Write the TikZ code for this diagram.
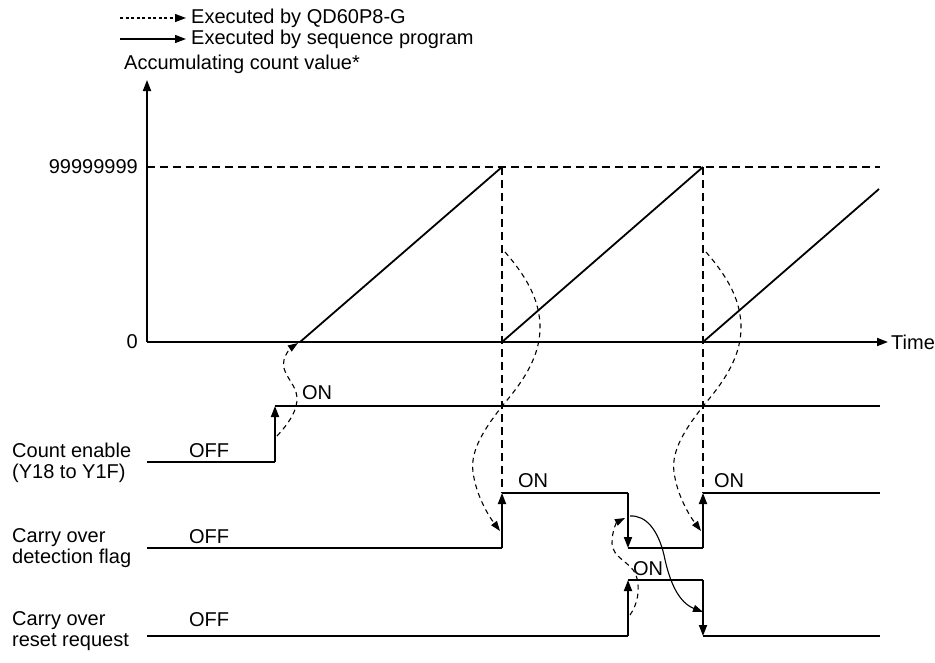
\documentclass[tikz,border=0pt]{standalone}
\usepackage{fontspec}
\setmainfont{Liberation Sans}
\usetikzlibrary{arrows.meta}
\begin{document}
\begin{tikzpicture}[x=1pt,y=-1pt,
  font=\fontsize{20}{21}\selectfont,
  lbl/.style={inner sep=0pt},
  sig/.style={line width=1.8pt},
  guide/.style={line width=1.8pt,dash pattern=on 8pt off 5pt},
  sigtip/.style={-{Triangle[length=11pt,width=8pt]}},
  qd/.style={line width=1.1pt,dash pattern=on 5pt off 4pt,-{Triangle[length=10pt,width=7pt]}},
  seq/.style={line width=1.1pt,-{Triangle[length=10pt,width=7pt]}},
  legdot/.style={line width=1.3pt,dash pattern=on 3pt off 2.5pt,-{Triangle[length=11pt,width=8pt]}},
  legsol/.style={line width=1.3pt,-{Triangle[length=11pt,width=8pt]}}]
\useasboundingbox (0,0) rectangle (935,662);

% legend
\coordinate (l1a) at (120,18); \coordinate (l1b) at (186,18);
\coordinate (l2a) at (120,39); \coordinate (l2b) at (186,39);
\draw[legdot] (l1a) -- (l1b);
\draw[legsol] (l2a) -- (l2b);
\node[lbl,anchor=west] (leg1) at (191,18) {Executed by QD60P8-G};
\node[lbl,anchor=west] (leg2) at (191,39) {Executed by sequence program};

% axes
\node[lbl,anchor=west] (ylab) at (124,64) {Accumulating count value*};
\coordinate (O) at (147,342);
\coordinate (ytop) at (147,80);
\coordinate (xend) at (888,342);
\draw[sig,sigtip] (O) -- (ytop);
\draw[sig,sigtip] (O) -- (xend);
\node[lbl,anchor=west] (time) at (891,342) {Time};
\node[lbl,anchor=east] (vmax) at (138,167) {99999999};
\node[lbl,anchor=east] (vzero) at (138,342) {0};

% max line and guides
\coordinate (m0) at (147,167);
\coordinate (m1) at (502,167);
\coordinate (m2) at (703,167);
\coordinate (m3) at (880,167);
\draw[guide] (m0) -- (m3);
\draw[guide] (m1) -- (502,493);
\draw[guide] (m2) -- (703,493);

% ramps
\coordinate (r1) at (300,342);
\coordinate (r2) at (502,342);
\coordinate (r3) at (703,342);
\draw[sig] (r1) -- (m1);
\draw[sig] (r2) -- (m2);
\draw[sig] (r3) -- (879,189);

% count enable
\coordinate (ce0) at (147,462);
\coordinate (ceL) at (275,462);
\coordinate (ceH) at (275,406);
\coordinate (ceE) at (880,406);
\draw[sig] (ce0) -- (ceL);
\draw[sig,sigtip] (ceL) -- (ceH);
\draw[sig] (ceH) -- (ceE);

% carry over detection flag
\coordinate (cd0) at (147,548);
\coordinate (cdL1) at (502,548);
\coordinate (cdH1) at (502,493);
\coordinate (cdH2) at (628,493);
\coordinate (cdL2) at (628,548);
\coordinate (cdL3) at (703,548);
\coordinate (cdH3) at (703,493);
\coordinate (cdE) at (880,493);
\draw[sig] (cd0) -- (cdL1);
\draw[sig,sigtip] (cdL1) -- (cdH1);
\draw[sig] (cdH1) -- (cdH2);
\draw[sig,sigtip] (cdH2) -- (cdL2);
\draw[sig] (cdL2) -- (cdL3);
\draw[sig,sigtip] (cdL3) -- (cdH3);
\draw[sig] (cdH3) -- (cdE);

% carry over reset request
\coordinate (rr0) at (147,636);
\coordinate (rrL1) at (628,636);
\coordinate (rrH1) at (628,580);
\coordinate (rrH2) at (703,580);
\coordinate (rrL2) at (703,636);
\coordinate (rrE) at (880,636);
\draw[sig] (rr0) -- (rrL1);
\draw[sig,sigtip] (rrL1) -- (rrH1);
\draw[sig] (rrH1) -- (rrH2);
\draw[sig,sigtip] (rrH2) -- (rrL2);
\draw[sig] (rrL2) -- (rrE);

% state labels
\node[lbl] (on1) at (317,393) {ON};
\node[lbl] (off1) at (209,451) {OFF};
\node[lbl] (off2) at (209,537) {OFF};
\node[lbl] (off3) at (209,620) {OFF};
\node[lbl] (on2) at (533,481) {ON};
\node[lbl] (on3) at (729,481) {ON};
\node[lbl] (on4) at (648,569) {ON};

% signal names
\node[lbl,anchor=west,align=left] (nce) at (12,463) {Count enable\\(Y18 to Y1F)};
\node[lbl,anchor=west,align=left] (ncd) at (12,548) {Carry over\\detection flag};
\node[lbl,anchor=west,align=left] (nrr) at (12,631) {Carry over\\reset request};

% QD60P8-G actions (dashed)
\coordinate (c1s) at (277,436);
\coordinate (c1e) at (298,343);
\draw[qd] (c1s) .. controls (292,420) and (300,405) .. (296,392)
  .. controls (292,380) and (281,372) .. (284,360)
  .. controls (286,352) and (292,347) .. (c1e);
\coordinate (c2s) at (505,252);
\coordinate (c2e) at (500,531);
\draw[qd] (c2s) .. controls (525,275) and (541,300) .. (540,330)
  .. controls (539,360) and (520,385) .. (503,405)
  .. controls (485,428) and (470,450) .. (473,472)
  .. controls (476,495) and (488,515) .. (c2e);
\coordinate (c3s) at (706,252);
\coordinate (c3e) at (701,531);
\draw[qd] (c3s) .. controls (726,275) and (742,300) .. (741,330)
  .. controls (740,360) and (721,385) .. (704,405)
  .. controls (686,428) and (671,450) .. (674,472)
  .. controls (677,495) and (689,515) .. (c3e);
\coordinate (c4s) at (630,615);
\coordinate (c4e) at (625,518);
\draw[qd] (c4s) .. controls (637,605) and (641,590) .. (636,575)
  .. controls (631,562) and (612,558) .. (612,543)
  .. controls (612,530) and (617,522) .. (c4e);

% sequence program action (solid)
\coordinate (c5s) at (630,516);
\coordinate (c5e) at (703,612);
\draw[seq] (c5s) .. controls (646,515) and (658,530) .. (664,555)
  .. controls (670,585) and (680,603) .. (c5e);
\end{tikzpicture}
\end{document}
